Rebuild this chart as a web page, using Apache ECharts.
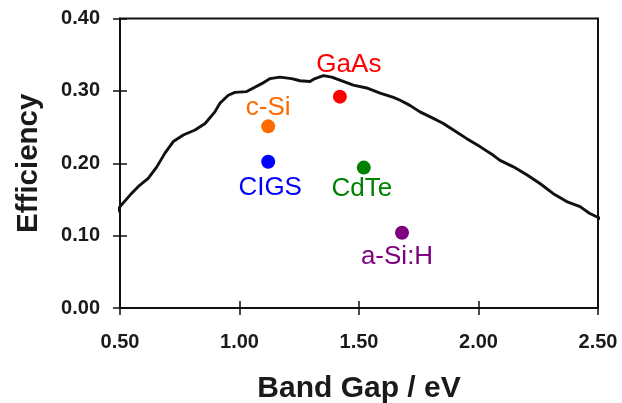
<!DOCTYPE html>
<html>
<head>
<meta charset="utf-8">
<script src="https://cdn.jsdelivr.net/npm/echarts@6/dist/echarts.min.js"></script>
<style>
html,body{margin:0;padding:0;background:#fff;}
#chart{width:622px;height:403px;}
</style>
</head>
<body>
<div id="chart"></div>
<script>
// ---- data ----
const curveGap = [0.472,0.500,0.542,0.577,0.618,0.654,0.688,0.723,0.765,0.814,0.856,0.897,0.918,0.953,0.981,1.030,1.058,1.093,1.128,1.169,1.218,1.253,1.295,1.316,1.351,1.386,1.434,1.476,1.532,1.588,1.644,1.672,1.713,1.755,1.811,1.853,1.895,1.951,2.006,2.062,2.090,2.146,2.202,2.257,2.313,2.369,2.425,2.464,2.501,2.543];
const curveEff = [0.124,0.140,0.156,0.168,0.179,0.195,0.214,0.230,0.239,0.246,0.255,0.271,0.283,0.294,0.298,0.299,0.304,0.310,0.317,0.319,0.317,0.314,0.313,0.317,0.321,0.319,0.313,0.308,0.304,0.297,0.291,0.287,0.280,0.271,0.262,0.255,0.246,0.234,0.223,0.211,0.204,0.195,0.184,0.172,0.158,0.147,0.140,0.131,0.125,0.118];
const materials = ['c-Si','CIGS','GaAs','CdTe','a-Si:H'];
const materialGap = [1.12,1.12,1.42,1.52,1.68];
const materialEff = [0.251,0.202,0.292,0.194,0.104];
const xTicks = [0.5,1.0,1.5,2.0,2.5];
const yTicks = [0.0,0.1,0.2,0.3,0.4];

// ---- styles ----
const colors = ['#ff6a00','#0000ff','#ff0000','#008000','#800080'];
const labelLayout = [
  {position:'top', distance:0, offset:[0,1]},
  {position:'bottom', distance:3, offset:[2,3]},
  {position:'top', distance:14, offset:[9,2]},
  {position:'bottom', distance:0, offset:[-2,1]},
  {position:'bottom', distance:3, offset:[-5,1]}
];
const FONT = '"Liberation Sans", Arial, Helvetica, sans-serif';
const INK = '#111';

const chart = echarts.init(document.getElementById('chart'), null, {renderer:'canvas'});

const baseX = {type:'value', min:xTicks[0], max:xTicks[xTicks.length-1], interval:xTicks[1]-xTicks[0], splitLine:{show:false}};
const baseY = {type:'value', min:yTicks[0], max:yTicks[yTicks.length-1], interval:yTicks[1]-yTicks[0], splitLine:{show:false}};

const series = [{
  type:'line',
  data: curveGap.map((g,i)=>[g, curveEff[i]]),
  symbol:'none',
  clip:false,
  lineStyle:{color:INK, width:2.9},
  silent:true,
  z:2
}];
materials.forEach((m,i)=>{
  series.push({
    type:'scatter',
    name:m,
    data:[[materialGap[i], materialEff[i]]],
    symbol:'circle',
    symbolSize:14,
    itemStyle:{color:colors[i], opacity:1},
    z:3,
    label:{
      show:true,
      formatter:m,
      position:labelLayout[i].position,
      distance:labelLayout[i].distance,
      offset:labelLayout[i].offset,
      color:colors[i],
      opacity:1,
      fontFamily:FONT,
      fontSize:26
    }
  });
});

chart.setOption({
  animation:false,
  backgroundColor:'#fff',
  grid:{left:120, right:24, top:18.5, bottom:95, containLabel:false, outerBoundsMode:'none',
        show:true, borderColor:INK, borderWidth:2, backgroundColor:'transparent'},
  xAxis:[
    Object.assign({}, baseX, {
      position:'bottom',
      axisLine:{show:true, lineStyle:{color:INK, width:2}},
      axisTick:{show:true, inside:false, length:7, lineStyle:{color:INK, width:1.5}},
      axisLabel:{show:true, margin:24, color:'#1a1a1a', fontFamily:FONT, fontSize:20, fontWeight:'bold',
        formatter:v=>v.toFixed(2)},
      name:'Band Gap / eV', nameLocation:'middle', nameGap:66,
      nameTextStyle:{color:'#1a1a1a', fontFamily:FONT, fontSize:30, fontWeight:'bold'}
    }),
    Object.assign({}, baseX, {
      position:'bottom',
      axisLine:{show:false},
      axisTick:{show:true, inside:true, length:7, lineStyle:{color:INK, width:1.5}},
      axisLabel:{show:false}
    })
  ],
  yAxis:[
    Object.assign({}, baseY, {
      position:'left',
      axisLine:{show:true, lineStyle:{color:INK, width:2}},
      axisTick:{show:true, inside:false, length:7, lineStyle:{color:INK, width:1.5}},
      axisLabel:{show:true, margin:20, color:'#1a1a1a', fontFamily:FONT, fontSize:20, fontWeight:'bold',
        formatter:v=>v.toFixed(2)},
      name:'Efficiency', nameLocation:'middle', nameGap:76, nameRotate:90,
      nameTextStyle:{color:'#1a1a1a', fontFamily:FONT, fontSize:29.5, fontWeight:'bold'}
    }),
    Object.assign({}, baseY, {
      position:'left',
      axisLine:{show:false},
      axisTick:{show:true, inside:true, length:7, lineStyle:{color:INK, width:1.5}},
      axisLabel:{show:false}
    })
  ],
  series: series
});
</script>
</body>
</html>
